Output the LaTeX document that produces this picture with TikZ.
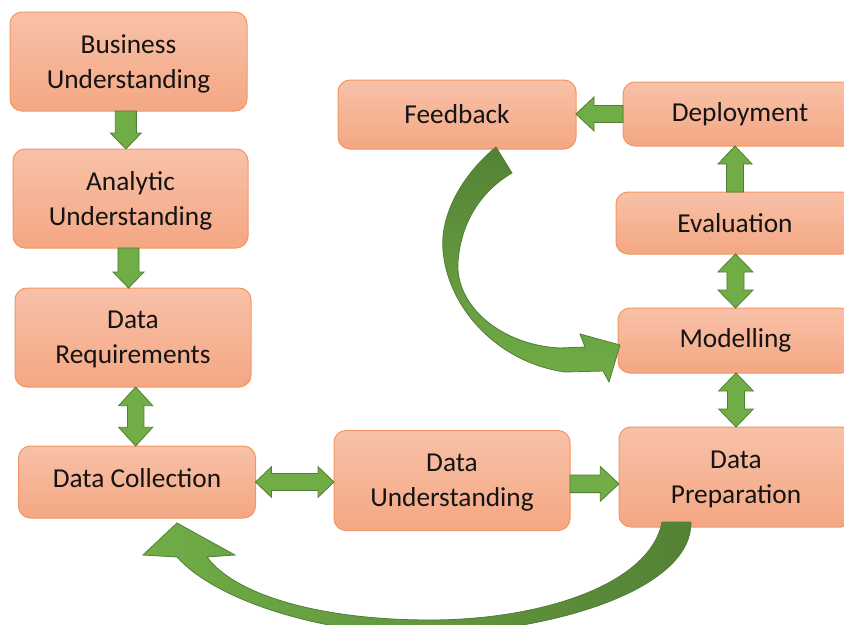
\documentclass[tikz,border=0pt]{standalone}
\usepackage{fontspec}
\setmainfont{Carlito}
\usetikzlibrary{calc}
\definecolor{boxtop}{RGB}{248,193,168}
\definecolor{boxbot}{RGB}{244,167,131}
\definecolor{boxline}{RGB}{242,150,100}
\definecolor{gfill}{RGB}{112,173,71}
\definecolor{gline}{RGB}{80,126,50}
\definecolor{gdark}{RGB}{84,130,53}
\definecolor{txt}{RGB}{20,20,20}
\tikzset{
  stagebox/.style={draw=boxline, line width=0.75pt, top color=boxtop, bottom color=boxbot,
    rounded corners=9pt, align=center, inner sep=0pt, outer sep=0pt, text=txt,
    font=\fontsize{20.5}{26}\selectfont},
  twoline/.style={text depth=0pt},
  garrow/.style={fill=gfill, draw=gline, line width=0.6pt, line join=miter},
  curvearrow/.style={draw=gline, line width=0.6pt},
}
% single block arrow: from, to, shaft half width, head half width, head length
\newcommand{\sblock}[5]{%
  \coordinate (ba-s) at (#1);
  \coordinate (ba-e) at (#2);
  \coordinate (ba-h) at ($(ba-e)!#5!(ba-s)$);
  \path[garrow] ($(ba-s)!#3!90:(ba-e)$) -- ($(ba-h)!#3!90:(ba-e)$) -- ($(ba-h)!#4!90:(ba-e)$)
    -- (ba-e) -- ($(ba-h)!#4!-90:(ba-e)$) -- ($(ba-h)!#3!-90:(ba-e)$) -- ($(ba-s)!#3!-90:(ba-e)$) -- cycle;
}
% double block arrow
\newcommand{\dblock}[5]{%
  \coordinate (ba-s) at (#1);
  \coordinate (ba-e) at (#2);
  \coordinate (ba-a) at ($(ba-s)!#5!(ba-e)$);
  \coordinate (ba-b) at ($(ba-e)!#5!(ba-s)$);
  \path[garrow] (ba-s) -- ($(ba-a)!#4!90:(ba-e)$) -- ($(ba-a)!#3!90:(ba-e)$) -- ($(ba-b)!#3!90:(ba-e)$)
    -- ($(ba-b)!#4!90:(ba-e)$) -- (ba-e) -- ($(ba-b)!#4!-90:(ba-e)$) -- ($(ba-b)!#3!-90:(ba-e)$)
    -- ($(ba-a)!#3!-90:(ba-e)$) -- ($(ba-a)!#4!-90:(ba-e)$) -- cycle;
}
\begin{document}
\begin{tikzpicture}[x=0.75pt,y=-0.75pt]
\useasboundingbox (0,0) rectangle (844,625);
\fill[white] (0,0) rectangle (844,625);
\clip (0,0) rectangle (844,625);

% stages
\node[stagebox, twoline, minimum width=177.75pt, minimum height=74.25pt] (bu) at (128.5,61.5) {Business\\Understanding};
\node[stagebox, twoline, minimum width=176.25pt, minimum height=74.25pt] (au) at (130.5,198.5) {Analytic\\Understanding};
\node[stagebox, twoline, minimum width=177pt, minimum height=74.25pt] (dr) at (133,337.5) {Data\\Requirements};
\node[stagebox, text height=9pt, minimum width=177.75pt, minimum height=54pt] (dc) at (137,482) {Data Collection};
\node[stagebox, twoline, minimum width=177pt, minimum height=75pt] (du) at (452,480.5) {Data\\Understanding};
\node[stagebox, twoline, minimum width=175.5pt, minimum height=75pt] (dp) at (736,477) {Data\\Preparation};
\node[stagebox, minimum width=176.25pt, minimum height=48.75pt] (mo) at (735.5,340.5) {Modelling};
\node[stagebox, minimum width=178.5pt, minimum height=46.5pt] (ev) at (735,223) {Evaluation};
\node[stagebox, minimum width=175.5pt, minimum height=48pt] (de) at (740,114) {Deployment};
\node[stagebox, minimum width=178.5pt, minimum height=51.75pt] (fb) at (457,114.5) {Feedback};

% straight block arrows
\sblock{[xshift=-2pt]bu.south}{[xshift=-2pt]bu.south |- au.north}{7.9pt}{11.6pt}{12pt}
\sblock{[xshift=-1.5pt]au.south}{[xshift=-1.5pt]au.south |- dr.north}{7.9pt}{11.6pt}{12pt}
\dblock{[xshift=-1pt]dc.north}{[xshift=-1pt]dc.north |- dr.south}{6.2pt}{12.75pt}{14pt}
\dblock{dc.east}{dc.east -| du.west}{6.4pt}{11.5pt}{12pt}
\sblock{[yshift=-2.5pt]du.east}{[yshift=-2.5pt]du.east -| dp.west}{6.6pt}{13pt}{14pt}
\dblock{dp.north}{dp.north |- mo.south}{6.4pt}{13pt}{13.5pt}
\dblock{mo.north}{mo.north |- ev.south}{6.4pt}{13.2pt}{13.5pt}
\sblock{ev.north}{ev.north |- de.south}{6.4pt}{12.75pt}{13.5pt}
\sblock{de.west}{de.west -| fb.east}{6.4pt}{12.75pt}{13.5pt}

% curved arrow: Feedback -> Modelling
\path[curvearrow, top color=gdark, bottom color=gfill]
  (496,147) .. controls (462,175) and (440,215) .. (443,250)
  .. controls (447,305) and (495,362) .. (565,372)
  -- (603,371) -- (609,382) -- (620,345) -- (580,334) -- (585,347) -- (560,348)
  .. controls (500,345) and (455,305) .. (458,262)
  .. controls (461,220) and (483,190) .. (512,173) -- cycle;

% curved arrow: Data Preparation -> Data Collection
\path[curvearrow, left color=gfill, right color=gdark]
  (691,522) .. controls (692,585) and (570,628) .. (440,634)
  .. controls (340,638) and (220,605) .. (177,557)
  -- (143,555) -- (177,523) -- (235,555) -- (207,557)
  .. controls (235,595) and (320,620) .. (430,620)
  .. controls (540,620) and (650,585) .. (662,522) -- cycle;
\end{tikzpicture}
\end{document}
